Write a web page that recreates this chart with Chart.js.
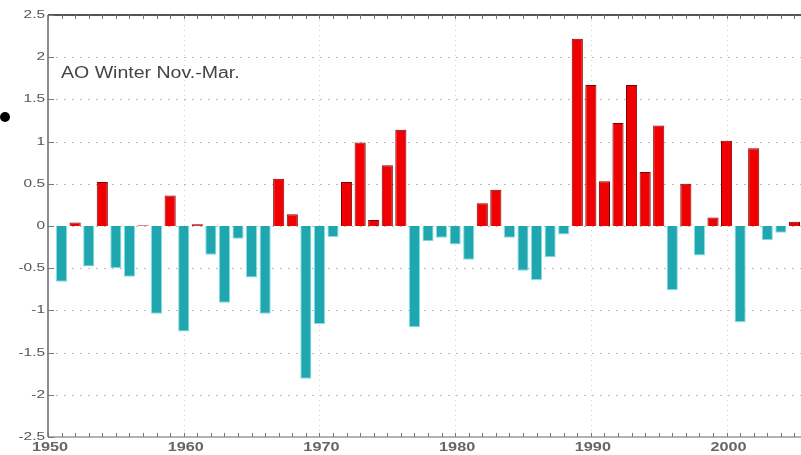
<!DOCTYPE html>
<html>
<head>
<meta charset="utf-8">
<script src="https://cdn.jsdelivr.net/npm/chart.js@4/dist/chart.umd.min.js"></script>
<style>
  html, body { margin: 0; padding: 0; background: #fff; overflow: hidden; }
  #wrap { position: relative; width: 808px; height: 455px; }
  #dot { position: absolute; left: 0; top: 112px; width: 10px; height: 10px; border-radius: 50%; background: #000; }
</style>
</head>
<body>
<div id="wrap">
  <canvas id="c" width="808" height="455"></canvas>
  <div id="dot"></div>
</div>
<script>
// Winter (Nov.-Mar.) Arctic Oscillation index, one value per year
const years = [
  1951, 1952, 1953, 1954, 1955, 1956, 1957, 1958, 1959, 1960,
  1961, 1962, 1963, 1964, 1965, 1966, 1967, 1968, 1969, 1970,
  1971, 1972, 1973, 1974, 1975, 1976, 1977, 1978, 1979, 1980,
  1981, 1982, 1983, 1984, 1985, 1986, 1987, 1988, 1989, 1990,
  1991, 1992, 1993, 1994, 1995, 1996, 1997, 1998, 1999, 2000,
  2001, 2002, 2003, 2004, 2005
];
const aoIndex = [
  -0.66, 0.04, -0.48, 0.52, -0.50, -0.60, 0.01, -1.04, 0.36, -1.25,
   0.02, -0.34, -0.91, -0.15, -0.61, -1.04, 0.56, 0.14, -1.81, -1.16,
  -0.13, 0.52, 0.99, 0.07, 0.72, 1.14, -1.20, -0.18, -0.14, -0.22,
  -0.40, 0.27, 0.43, -0.14, -0.53, -0.64, -0.37, -0.10, 2.22, 1.67,
   0.53, 1.22, 1.67, 0.64, 1.19, -0.76, 0.50, -0.35, 0.10, 1.01,
  -1.14, 0.92, -0.17, -0.08, 0.05
];
const yTickValues = [-2.5, -2, -1.5, -1, -0.5, 0, 0.5, 1, 1.5, 2, 2.5];
const yTickLabels = ['-2.5', '-2', '-1.5', '-1', '-0.5', '0', '0.5', '1', '1.5', '2', '2.5'];
const decadeTicks = [1950, 1960, 1970, 1980, 1990, 2000];
const xRange = [1950, 2006];
const titleText = 'AO Winter Nov.-Mar.';

const POS_FILL = '#f00000', POS_EDGE = '#7a0000';
const NEG_FILL = '#1fa6ae', NEG_EDGE = '#7fdfe4';
const FONT = '"Liberation Sans", Arial, sans-serif';

// text drawn with a horizontal stretch (the lettering is wide and flat)
function wideText(ctx, text, x, y, align, stretch) {
  ctx.save();
  ctx.translate(x, y);
  ctx.scale(stretch, 1);
  ctx.textAlign = align;
  ctx.fillText(text, 0, 0);
  ctx.restore();
}

// dotted grid, frame lines, inward tick marks, tick labels and caption
const framePlugin = {
  id: 'frame',
  beforeDatasetsDraw(chart) {
    const { ctx, chartArea: a, scales: { x, y } } = chart;
    ctx.save();
    ctx.lineWidth = 1;
    ctx.setLineDash([2, 6]);
    ctx.strokeStyle = '#bdbdbd';
    yTickValues.forEach((v, i) => {
      if (i === 0 || i === yTickValues.length - 1) return;
      const py = Math.round(y.getPixelForValue(v)) + 0.5;
      ctx.beginPath(); ctx.moveTo(a.left, py); ctx.lineTo(a.right, py); ctx.stroke();
    });
    ctx.strokeStyle = '#d0d0d0';
    ctx.setLineDash([1, 4]);
    decadeTicks.forEach(v => {
      if (v === xRange[0]) return;
      const px = Math.round(x.getPixelForValue(v)) + 0.5;
      ctx.beginPath(); ctx.moveTo(px, a.top); ctx.lineTo(px, a.bottom); ctx.stroke();
    });
    ctx.restore();
  },
  afterDatasetsDraw(chart) {
    const { ctx, chartArea: a, scales: { x, y } } = chart;
    ctx.save();
    ctx.setLineDash([]);
    ctx.strokeStyle = '#555';
    ctx.lineWidth = 2;
    ctx.beginPath(); ctx.moveTo(a.left, a.top); ctx.lineTo(a.right, a.top); ctx.stroke();
    ctx.strokeStyle = '#9a9a9a';
    ctx.lineWidth = 1.5;
    ctx.beginPath(); ctx.moveTo(a.left, a.bottom); ctx.lineTo(a.right, a.bottom); ctx.stroke();
    ctx.strokeStyle = '#8c8c8c';
    ctx.lineWidth = 2;
    ctx.beginPath(); ctx.moveTo(a.left, a.top); ctx.lineTo(a.left, a.bottom); ctx.stroke();

    ctx.lineWidth = 1;
    ctx.strokeStyle = '#777';
    for (let yr = xRange[0]; yr <= xRange[1]; yr++) {
      const px = Math.round(x.getPixelForValue(yr)) + 0.5;
      ctx.beginPath(); ctx.moveTo(px, a.top); ctx.lineTo(px, a.top + 4); ctx.stroke();
      ctx.beginPath(); ctx.moveTo(px, a.bottom); ctx.lineTo(px, a.bottom - 4); ctx.stroke();
    }
    yTickValues.forEach(v => {
      const py = Math.round(y.getPixelForValue(v)) + 0.5;
      ctx.beginPath(); ctx.moveTo(a.left, py); ctx.lineTo(a.left + 6, py); ctx.stroke();
    });

    // y tick labels
    ctx.fillStyle = '#555';
    ctx.font = '11px ' + FONT;
    ctx.textBaseline = 'middle';
    yTickValues.forEach((v, i) => {
      wideText(ctx, yTickLabels[i], a.left - 3, y.getPixelForValue(v), 'right', 1.4);
    });
    // x tick labels
    ctx.fillStyle = '#666';
    ctx.font = 'bold 13px ' + FONT;
    decadeTicks.forEach(v => {
      wideText(ctx, String(v), x.getPixelForValue(v) + 2, a.bottom + 10, 'center', 1.25);
    });
    // caption inside the plot
    ctx.fillStyle = '#444';
    ctx.font = '16px ' + FONT;
    wideText(ctx, titleText, a.left + 13, a.top + 59, 'left', 1.22);
    ctx.restore();
  }
};

new Chart(document.getElementById('c'), {
  type: 'bar',
  data: {
    datasets: [{
      data: years.map((yr, i) => ({ x: yr, y: aoIndex[i] })),
      backgroundColor: ctx => (ctx.raw && ctx.raw.y >= 0 ? POS_FILL : NEG_FILL),
      borderColor: ctx => (ctx.raw && ctx.raw.y >= 0 ? POS_EDGE : NEG_EDGE),
      borderWidth: 1,
      categoryPercentage: 1,
      barPercentage: 0.82
    }]
  },
  options: {
    responsive: false,
    animation: false,
    layout: { padding: { top: 15, right: 0, left: 0, bottom: 0 } },
    plugins: { legend: { display: false }, tooltip: { enabled: false } },
    scales: {
      x: {
        type: 'linear',
        min: xRange[0],
        max: xRange[1],
        offset: false,
        afterFit: s => { s.height = 18; },
        afterBuildTicks: s => { s.ticks = decadeTicks.map(v => ({ value: v })); },
        grid: { display: false, drawTicks: false, offset: false },
        border: { display: false },
        ticks: { display: false }
      },
      y: {
        min: yTickValues[0],
        max: yTickValues[yTickValues.length - 1],
        afterFit: s => { s.width = 48; },
        afterBuildTicks: s => { s.ticks = yTickValues.map(v => ({ value: v })); },
        grid: { display: false, drawTicks: false },
        border: { display: false },
        ticks: { display: false }
      }
    }
  },
  plugins: [framePlugin]
});
</script>
</body>
</html>
